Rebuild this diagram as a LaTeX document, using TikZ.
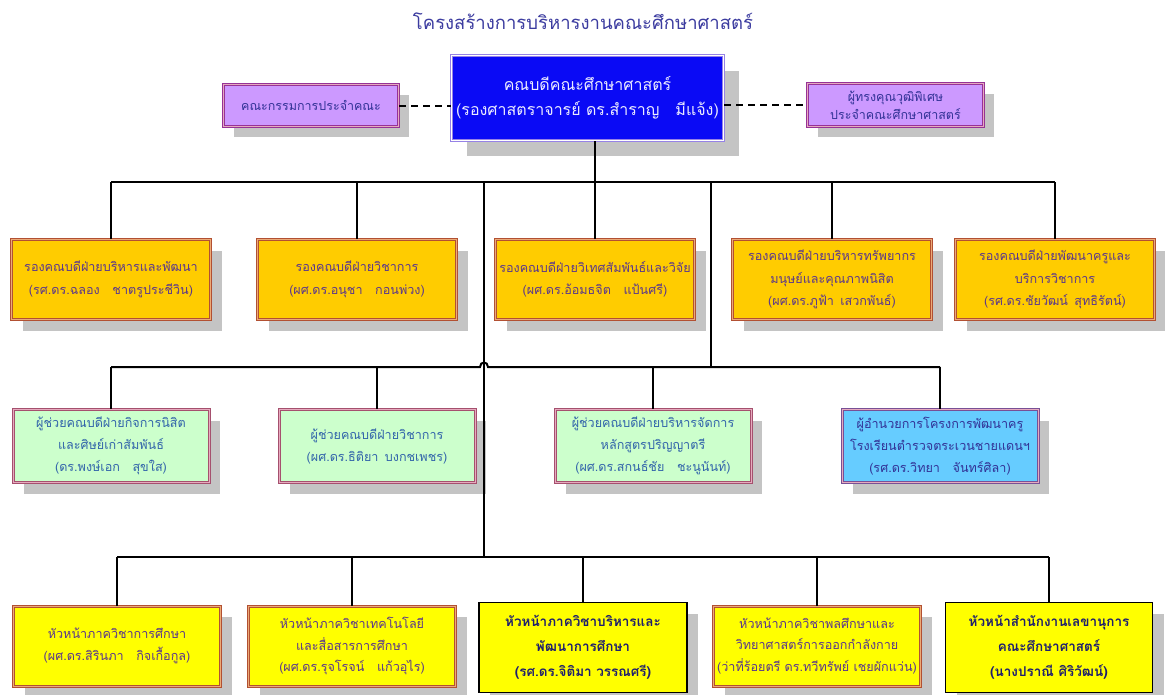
\documentclass[tikz,border=0pt]{standalone}
\usepackage{fontspec}
\newfontfamily\thai[Script=Thai]{Loma}
\usetikzlibrary{shadows}
\definecolor{titleblue}{RGB}{60,60,160}
\definecolor{shade}{RGB}{196,196,196}
\definecolor{deanblue}{RGB}{10,10,245}
\definecolor{deanborder}{RGB}{150,130,230}
\definecolor{deantext}{RGB}{235,235,255}
\definecolor{violetfill}{RGB}{204,153,255}
\definecolor{violetborder}{RGB}{150,50,150}
\definecolor{violettext}{RGB}{50,50,150}
\definecolor{goldfill}{RGB}{255,204,0}
\definecolor{brownborder}{RGB}{178,80,50}
\definecolor{peachline}{RGB}{235,170,120}
\definecolor{purpletext}{RGB}{90,55,140}
\definecolor{greenfill}{RGB}{204,255,204}
\definecolor{mauveborder}{RGB}{165,80,110}
\definecolor{pinkline}{RGB}{230,170,190}
\definecolor{greentext}{RGB}{50,100,170}
\definecolor{skyfill}{RGB}{102,204,255}
\definecolor{skyborder}{RGB}{120,80,150}
\definecolor{yellowfill}{RGB}{255,255,0}
\definecolor{navytext}{RGB}{30,30,110}
\begin{document}
\begin{tikzpicture}[x=1pt,y=-1pt,
  box/.style={rectangle, align=center, inner sep=1pt, line width=1pt, double distance=1pt},
  shad/.style={general shadow={fill=shade, shadow xshift=#1, shadow yshift=-#1}},
  shad/.default=11pt,
  deanbox/.style={box, shad=15pt, fill=deanblue, draw=deanborder, double=white, text=deantext,
    font=\thai\fontsize{16}{25}\selectfont},
  violetbox/.style={box, shad=10pt, fill=violetfill, draw=violetborder, double=pinkline, text=violettext,
    font=\thai\fontsize{12.5}{18}\selectfont},
  goldbox/.style={box, shad, fill=goldfill, draw=brownborder, double=peachline, text=purpletext,
    font=\thai\fontsize{12.6}{22.5}\selectfont},
  greenbox/.style={box, shad, fill=greenfill, draw=mauveborder, double=pinkline, text=greentext,
    font=\thai\fontsize{12.6}{22}\selectfont},
  skybox/.style={box, shad, fill=skyfill, draw=skyborder, double=pinkline, text=violettext,
    font=\thai\fontsize{12.6}{22}\selectfont},
  yellowbox/.style={box, shad, fill=yellowfill, draw=brownborder, double=peachline, text=purpletext,
    font=\thai\fontsize{12.6}{21.5}\selectfont},
  boldbox/.style={rectangle, align=center, inner sep=1pt, shad, fill=yellowfill, draw=black, line width=1.6pt,
    text=navytext, font=\thai\bfseries\fontsize{13.5}{25}\selectfont},
  wire/.style={draw=black, line width=2pt},
  r1/.style={minimum width=199pt, minimum height=80pt},
  r2/.style={minimum width=196pt, minimum height=73pt},
  r3/.style={minimum width=207pt, minimum height=80pt},
]
\useasboundingbox (0,0) rectangle (1165,694);
\fill[white] (0,0) rectangle (1165,694);

\node[font=\thai\fontsize{18.5}{20}\selectfont, text=titleblue] (title) at (583,21) {โครงสร้างการบริหารงานคณะศึกษาศาสตร์};

\node[deanbox, minimum width=272pt, minimum height=85pt] (dean) at (587.5,98)
  {คณบดีคณะศึกษาศาสตร์\\(รองศาสตราจารย์ ดร.สำราญ\quad มีแจ้ง)};
\node[violetbox, minimum width=175pt, minimum height=42pt] (pl) at (311,105.5) {คณะกรรมการประจำคณะ};
\node[violetbox, minimum width=176pt, minimum height=43pt] (pr) at (895.5,105)
  {ผู้ทรงคุณวุฒิพิเศษ\\ประจำคณะศึกษาศาสตร์};

% row 1
\node[goldbox, r1] (r11) at (111,279.5) {รองคณบดีฝ่ายบริหารและพัฒนา\\(รศ.ดร.ฉลอง\quad ชาตรูประชีวิน)};
\node[goldbox, r1] (r12) at (357,279.5) {รองคณบดีฝ่ายวิชาการ\\(ผศ.ดร.อนุชา\quad กอนพ่วง)};
\node[goldbox, r1] (r13) at (595,279.5) {รองคณบดีฝ่ายวิเทศสัมพันธ์และวิจัย\\(ผศ.ดร.อ้อมธจิต\quad แป้นศรี)};
\node[goldbox, r1] (r14) at (832,279.5) {รองคณบดีฝ่ายบริหารทรัพยากร\\มนุษย์และคุณภาพนิสิต\\(ผศ.ดร.ภูฟ้า\enspace เสวกพันธ์)};
\node[goldbox, r1] (r15) at (1055,279.5) {รองคณบดีฝ่ายพัฒนาครูและ\\บริการวิชาการ\\(รศ.ดร.ชัยวัฒน์\enspace สุทธิรัตน์)};

% row 2
\node[greenbox, r2] (r21) at (111,446) {ผู้ช่วยคณบดีฝ่ายกิจการนิสิต\\และศิษย์เก่าสัมพันธ์\\(ดร.พงษ์เอก\quad สุขใส)};
\node[greenbox, r2] (r22) at (377,446) {ผู้ช่วยคณบดีฝ่ายวิชาการ\\(ผศ.ดร.ธิติยา\enspace บงกชเพชร)};
\node[greenbox, r2] (r23) at (653,446) {ผู้ช่วยคณบดีฝ่ายบริหารจัดการ\\หลักสูตรปริญญาตรี\\(ผศ.ดร.สกนธ์ชัย\quad ชะนูนันท์)};
\node[skybox, r2] (r24) at (940,446) {ผู้อำนวยการโครงการพัฒนาครู\\โรงเรียนตำรวจตระเวนชายแดนฯ\\(รศ.ดร.วิทยา\quad จันทร์ศิลา)};

% row 3
\node[yellowbox, r3] (r31) at (117,646) {หัวหน้าภาควิชาการศึกษา\\(ผศ.ดร.สิรินภา\quad กิจเกื้อกูล)};
\node[yellowbox, r3] (r32) at (352,646) {หัวหน้าภาควิชาเทคโนโลยี\\และสื่อสารการศึกษา\\(ผศ.ดร.รุจโรจน์\quad แก้วอุไร)};
\node[boldbox, minimum width=208pt, minimum height=90pt] (r33) at (583,647.5) {หัวหน้าภาควิชาบริหารและ\\พัฒนาการศึกษา\\(รศ.ดร.จิติมา วรรณศรี)};
\node[yellowbox, r3] (r34) at (817,646) {หัวหน้าภาควิชาพลศึกษาและ\\วิทยาศาสตร์การออกกำลังกาย\\(ว่าที่ร้อยตรี ดร.ทวีทรัพย์ เชยผักแว่น)};
\node[boldbox, minimum width=207pt, minimum height=90pt] (r35) at (1049,647.5) {หัวหน้าสำนักงานเลขานุการ\\คณะศึกษาศาสตร์\\(นางปราณี ศิริวัฒน์)};

% dashed links
\draw[line width=2pt, dash pattern=on 7pt off 5pt] (pl.east) -- (dean.west |- pl.east);
\draw[line width=2pt, dash pattern=on 7pt off 5pt] (dean.east |- pr.west) -- (pr.west);

% bus coordinates
\coordinate (bus1) at (0,182);
\coordinate (bus2) at (0,367);
\coordinate (bus3) at (0,557);
\coordinate (spineA) at (484,182);
\coordinate (spineB) at (711,182);

% tree
\draw[wire] (r13.north |- dean.south) -- (r13.north);
\draw[wire] (r11.north |- bus1) -- (r15.north |- bus1);
\foreach \n in {r11,r12,r14,r15} \draw[wire] (\n.north |- bus1) -- (\n.north);
\draw[wire] (spineA) -- (spineA |- bus3);
\draw[wire] (spineB) -- (spineB |- bus2);
\draw[wire] (r21.north |- bus2) -- ([xshift=-4pt]spineA |- bus2)
  .. controls +(0,-6) and +(0,-6) .. ([xshift=4pt]spineA |- bus2) -- (r24.north |- bus2);
\foreach \n in {r21,r22,r23,r24} \draw[wire] (\n.north |- bus2) -- (\n.north);
\draw[wire] (r31.north |- bus3) -- (r35.north |- bus3);
\foreach \n in {r31,r32,r33,r34,r35} \draw[wire] (\n.north |- bus3) -- (\n.north);
\end{tikzpicture}
\end{document}
